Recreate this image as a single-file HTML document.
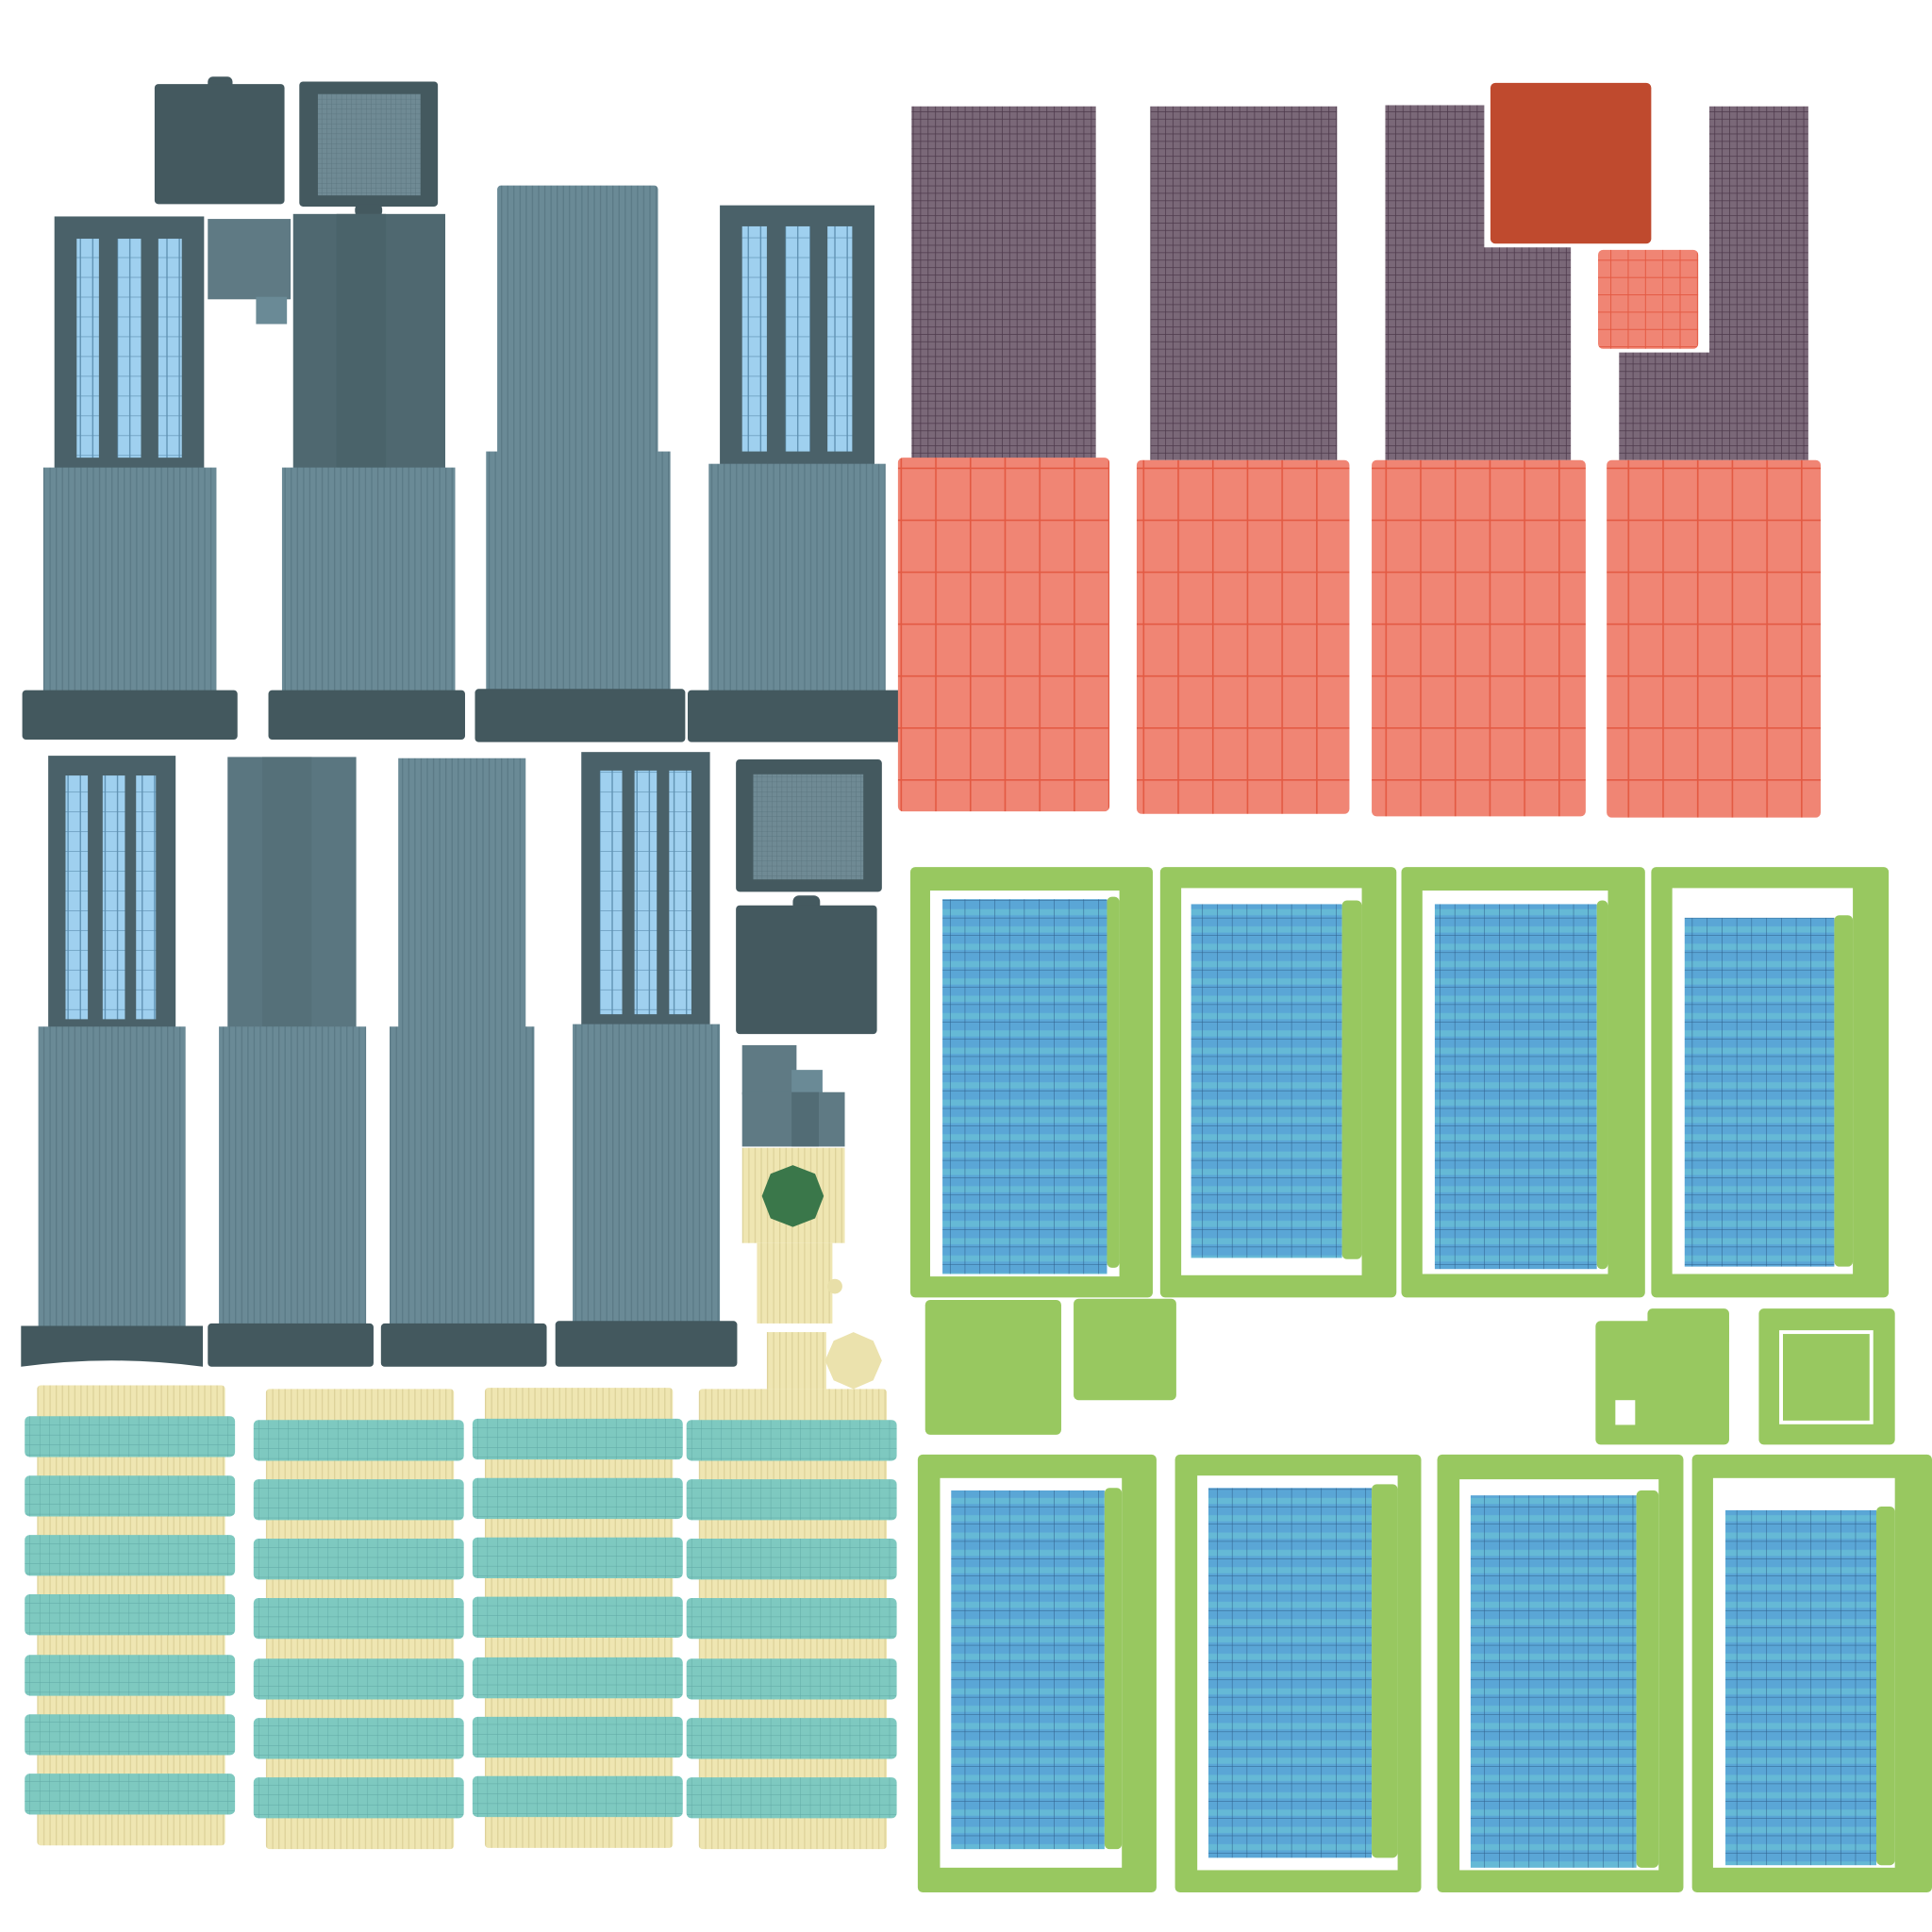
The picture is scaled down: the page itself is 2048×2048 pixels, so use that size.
<!DOCTYPE html>
<html><head><meta charset="utf-8"><style>html,body{margin:0;padding:0;background:#fff}svg{display:block}</style></head>
<body>
<svg width="2048" height="2048" viewBox="0 0 1562 1562" xmlns="http://www.w3.org/2000/svg">
<defs>
<pattern id="vs" width="5" height="10" patternUnits="userSpaceOnUse"><rect width="5" height="10" fill="#6a8a96"/><rect width="1" height="10" fill="#5b7a86"/></pattern>
<pattern id="grid" width="4" height="4" patternUnits="userSpaceOnUse"><rect width="4" height="4" fill="#6f8a94"/><path d="M0 0H4M0 0V4" stroke="#58727c" stroke-width="0.6"/></pattern>
<pattern id="win" width="10" height="16" patternUnits="userSpaceOnUse"><rect width="10" height="16" fill="#9fd0ef"/><path d="M0 0H10M5 0V16" stroke="#5d8fb0" stroke-width="1"/></pattern>
<pattern id="brown" width="6" height="6" patternUnits="userSpaceOnUse"><rect width="6" height="6" fill="#7a6878"/><path d="M0 0H6M0 0V6" stroke="#4e3a4c" stroke-width="1.2"/></pattern>
<pattern id="red" width="28" height="42" patternUnits="userSpaceOnUse"><rect width="28" height="42" fill="#f08574"/><path d="M0 0H28M0 0V42" stroke="#e35a43" stroke-width="2.5"/></pattern>
<pattern id="redsm" width="14" height="14" patternUnits="userSpaceOnUse"><rect width="14" height="14" fill="#f08574"/><path d="M0 0H14M0 0V14" stroke="#e35a43" stroke-width="1.5"/></pattern>
<pattern id="blue" width="12" height="14" patternUnits="userSpaceOnUse"><rect width="12" height="14" fill="#5aa6d6"/><rect y="7" width="12" height="5" fill="#65b9d6"/><path d="M0 0H12M0 0V14" stroke="#2f5f8a" stroke-width="0.8"/></pattern>
<pattern id="teal" width="8" height="8" patternUnits="userSpaceOnUse"><rect width="8" height="8" fill="#7ec9c0"/><path d="M0 0H8M0 0V8" stroke="#5fa8a4" stroke-width="0.7"/></pattern>
<pattern id="beige" width="5" height="10" patternUnits="userSpaceOnUse"><rect width="5" height="10" fill="#efe6b2"/><rect width="1" height="10" fill="#ddd29a"/></pattern>
</defs>

<rect x="168" y="62" width="20" height="10" rx="4" fill="#44595f"/>
<rect x="125" y="68" width="105" height="97" rx="3" fill="#44595f"/>
<rect x="242" y="66" width="112" height="101" rx="3" fill="#44595f"/>
<rect x="257" y="76" width="83" height="82" fill="url(#grid)"/>
<rect x="287" y="165" width="22" height="10" rx="4" fill="#44595f"/>
<rect x="168" y="177" width="67" height="65" fill="#5f7a84"/>
<rect x="207" y="240" width="25" height="22" fill="#6a8a96"/>

<rect x="44" y="175" width="121" height="205" fill="#4a6169"/>
<rect x="62" y="193" width="18" height="177" fill="url(#win)"/><rect x="95" y="193" width="19" height="177" fill="url(#win)"/><rect x="128" y="193" width="19" height="177" fill="url(#win)"/>
<rect x="35" y="378" width="140" height="184" fill="url(#vs)"/>
<rect x="18" y="558" width="174" height="40" rx="3" fill="#43585e"/>
<rect x="237" y="173" width="123" height="207" fill="#4f6870"/>
<rect x="272" y="173" width="40" height="207" fill="#4a636a"/>
<rect x="228" y="378" width="140" height="184" fill="url(#vs)"/>
<rect x="217" y="558" width="159" height="40" rx="3" fill="#43585e"/>
<rect x="402" y="150" width="130" height="218" rx="3" fill="url(#vs)"/>
<rect x="393" y="365" width="149" height="197" fill="url(#vs)"/>
<rect x="384" y="557" width="170" height="43" rx="3" fill="#43585e"/>
<rect x="582" y="166" width="125" height="211" fill="#4a6169"/>
<rect x="600" y="183" width="20" height="182" fill="url(#win)"/><rect x="635" y="183" width="20" height="182" fill="url(#win)"/><rect x="669" y="183" width="20" height="182" fill="url(#win)"/>
<rect x="573" y="375" width="143" height="187" fill="url(#vs)"/>
<rect x="556" y="558" width="174" height="42" rx="3" fill="#43585e"/>

<rect x="39" y="611" width="103" height="221" fill="#4a6169"/>
<rect x="53" y="627" width="18" height="197" fill="url(#win)"/><rect x="83" y="627" width="18" height="197" fill="url(#win)"/><rect x="110" y="627" width="16" height="197" fill="url(#win)"/>
<rect x="31" y="830" width="119" height="245" fill="url(#vs)"/>
<path d="M17 1072 H164 V1105 Q90 1095 17 1105 Z" fill="#43585e"/>
<rect x="184" y="612" width="104" height="222" fill="#5a7680"/>
<rect x="212" y="612" width="40" height="222" fill="#557079"/>
<rect x="177" y="830" width="119" height="245" fill="url(#vs)"/>
<rect x="168" y="1070" width="134" height="35" rx="3" fill="#43585e"/>
<rect x="322" y="613" width="103" height="220" fill="url(#vs)"/>
<rect x="315" y="830" width="117" height="245" fill="url(#vs)"/>
<rect x="308" y="1070" width="134" height="35" rx="3" fill="#43585e"/>
<rect x="470" y="608" width="104" height="222" fill="#4a6169"/>
<rect x="485" y="623" width="18" height="197" fill="url(#win)"/><rect x="513" y="623" width="18" height="197" fill="url(#win)"/><rect x="541" y="623" width="18" height="197" fill="url(#win)"/>
<rect x="463" y="828" width="119" height="247" fill="url(#vs)"/>
<rect x="449" y="1068" width="147" height="37" rx="3" fill="#43585e"/>

<rect x="595" y="614" width="118" height="107" rx="3" fill="#44595f"/>
<rect x="609" y="626" width="89" height="85" fill="url(#grid)"/>
<rect x="641" y="724" width="22" height="12" rx="5" fill="#44595f"/>
<rect x="595" y="732" width="114" height="104" rx="3" fill="#44595f"/>
<rect x="600" y="845" width="44" height="40" fill="#5f7a84"/>
<rect x="640" y="865" width="25" height="20" fill="#6a8a96"/>
<rect x="600" y="883" width="83" height="44" fill="#5f7a84"/>
<rect x="640" y="883" width="22" height="44" fill="#526c75"/>

<!-- striped stacks -->
<g id="stack">
<rect x="30" y="1120" width="152" height="372" rx="3" fill="url(#beige)"/>
<rect x="20" y="1145" width="170" height="33" rx="4" fill="url(#teal)"/>
<rect x="20" y="1193" width="170" height="33" rx="4" fill="url(#teal)"/>
<rect x="20" y="1241" width="170" height="33" rx="4" fill="url(#teal)"/>
<rect x="20" y="1289" width="170" height="33" rx="4" fill="url(#teal)"/>
<rect x="20" y="1338" width="170" height="33" rx="4" fill="url(#teal)"/>
<rect x="20" y="1386" width="170" height="33" rx="4" fill="url(#teal)"/>
<rect x="20" y="1434" width="170" height="33" rx="4" fill="url(#teal)"/>
</g>
<use href="#stack" x="185" y="3"/>
<use href="#stack" x="362" y="2"/>
<use href="#stack" x="535" y="3"/>

<rect x="600" y="928" width="83" height="77" fill="url(#beige)"/>
<polygon points="641,942 659,949 666,967 659,985 641,992 623,985 616,967 623,949" fill="#3a774a"/>
<rect x="612" y="1005" width="61" height="65" fill="url(#beige)"/>
<circle cx="675" cy="1040" r="6" fill="#e8dfa8"/>
<rect x="620" y="1077" width="48" height="46" fill="url(#beige)"/>
<polygon points="690,1077 706,1084 713,1100 706,1116 690,1123 674,1116 667,1100 674,1084" fill="#ebe2ad"/>

<rect x="737" y="86" width="149" height="286" fill="url(#brown)"/>
<rect x="726" y="370" width="171" height="286" rx="4" fill="url(#red)"/>
<rect x="930" y="86" width="151" height="286" fill="url(#brown)"/>
<rect x="919" y="372" width="172" height="286" rx="4" fill="url(#red)"/>
<path d="M1120 85H1200V200H1270V372H1120Z" fill="url(#brown)"/>
<rect x="1109" y="372" width="173" height="288" rx="4" fill="url(#red)"/>
<rect x="1205" y="67" width="130" height="130" rx="4" fill="#bf4a2e"/>
<rect x="1292" y="202" width="81" height="80" rx="4" fill="url(#redsm)"/>
<path d="M1382 86H1462V372H1309V285H1382Z" fill="url(#brown)"/>
<rect x="1299" y="372" width="173" height="289" rx="4" fill="url(#red)"/>

<g fill="#98c860">
<rect x="736" y="701" width="196" height="348" rx="4"/>
<rect x="938" y="701" width="191" height="348" rx="4"/>
<rect x="1133" y="701" width="197" height="348" rx="4"/>
<rect x="1335" y="701" width="192" height="348" rx="4"/>
<rect x="742" y="1176" width="193" height="354" rx="4"/>
<rect x="950" y="1176" width="199" height="354" rx="4"/>
<rect x="1162" y="1176" width="199" height="354" rx="4"/>
<rect x="1368" y="1176" width="194" height="354" rx="4"/>
<rect x="748" y="1051" width="110" height="109" rx="4"/>
<rect x="868" y="1050" width="83" height="82" rx="4"/>
<rect x="1290" y="1068" width="108" height="100" rx="4"/>
<rect x="1332" y="1058" width="66" height="30" rx="4"/>
<rect x="1422" y="1058" width="110" height="110" rx="4"/>
</g>
<rect x="1306" y="1132" width="16" height="20" fill="#fff"/>
<rect x="1440" y="1077" width="73" height="73" fill="none" stroke="#fff" stroke-width="3"/>
<g fill="#fff">
<rect x="752" y="720" width="153" height="312"/>
<rect x="955" y="718" width="146" height="313"/>
<rect x="1150" y="720" width="150" height="310"/>
<rect x="1352" y="718" width="146" height="312"/>
<rect x="760" y="1195" width="147" height="315"/>
<rect x="968" y="1193" width="162" height="319"/>
<rect x="1180" y="1196" width="161" height="316"/>
<rect x="1385" y="1195" width="147" height="315"/>
</g>
<g fill="url(#blue)">
<rect x="762" y="727" width="133" height="303"/>
<rect x="963" y="731" width="122" height="286"/>
<rect x="1160" y="731" width="131" height="295"/>
<rect x="1362" y="742" width="121" height="282"/>
<rect x="769" y="1205" width="124" height="290"/>
<rect x="977" y="1203" width="132" height="299"/>
<rect x="1189" y="1209" width="134" height="301"/>
<rect x="1395" y="1221" width="122" height="287"/>
</g>
<g fill="#98c860">
<rect x="895" y="725" width="10" height="300" rx="4"/>
<rect x="1085" y="728" width="16" height="290" rx="4"/>
<rect x="1291" y="728" width="9" height="298" rx="4"/>
<rect x="1483" y="740" width="15" height="284" rx="4"/>
<rect x="893" y="1203" width="14" height="292" rx="4"/>
<rect x="1109" y="1200" width="21" height="302" rx="4"/>
<rect x="1323" y="1205" width="18" height="305" rx="4"/>
<rect x="1517" y="1218" width="15" height="290" rx="4"/>
</g>
</svg>
</body></html>
